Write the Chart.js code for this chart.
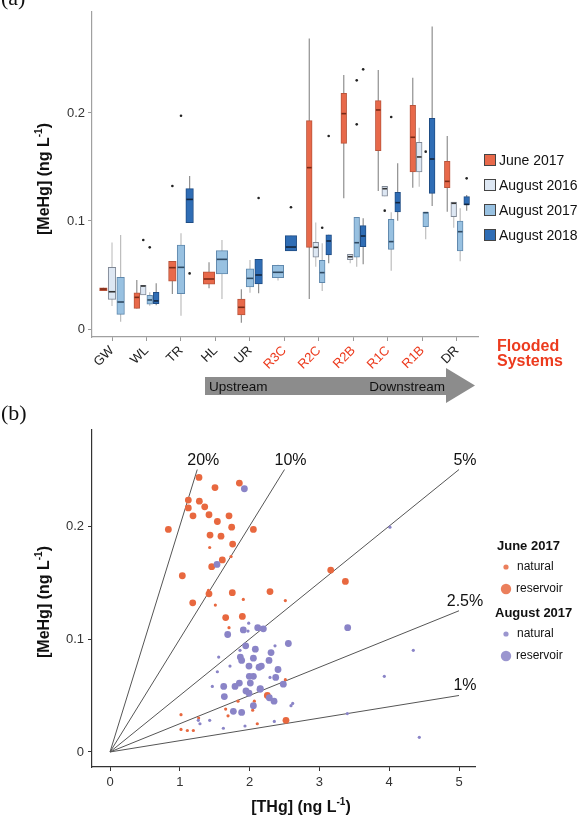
<!DOCTYPE html>
<html>
<head>
<meta charset="utf-8">
<script src="https://cdn.jsdelivr.net/npm/chart.js@4.4.0/dist/chart.umd.min.js"></script>
<style>
  body { margin: 0; background: #fff; width: 584px; height: 822px; position: relative; overflow: hidden; }
  canvas { position: absolute; left: 0; }
  #chartA { top: 0; }
  #chartB { top: 410px; }
  .panel { position: absolute; left: 1px; font-family: 'Liberation Serif', 'Times New Roman', serif; font-size: 22px; line-height: 1; color: #111; }
</style>
</head>
<body>
<canvas id="chartA" width="584" height="410"></canvas>
<canvas id="chartB" width="584" height="412"></canvas>
<div class="panel" style="top:-13px">(a)</div>
<div class="panel" style="top:402px">(b)</div>
<script>
// ---------- panel (a) data ----------
const categories = ['GW', 'WL', 'TR', 'HL', 'UR', 'R3C', 'R2C', 'R2B', 'R1C', 'R1B', 'DR'];
const floodedSites = ['R3C', 'R2C', 'R2B', 'R1C', 'R1B'];
const seriesNames = ['June 2017', 'August 2016', 'August 2017', 'August 2018'];
const yTicksA = [0, 0.1, 0.2];

// [lower whisker, Q1, median, Q3, upper whisker] per site, null = not sampled
const june2017Boxes = [
  [0.0355, 0.0355, 0.037, 0.0382, 0.0382],
  [0.0191, 0.0191, 0.0293, 0.0336, 0.0454],
  [0.0324, 0.0444, 0.0568, 0.0627, 0.0627],
  [0.0377, 0.0414, 0.0463, 0.053, 0.0617],
  [0.0059, 0.013, 0.0201, 0.0278, 0.0367],
  null,
  [0.0278, 0.0756, 0.1494, 0.1929, 0.269],
  [0.121, 0.1719, 0.1994, 0.2182, 0.2352],
  [0.1278, 0.1651, 0.2028, 0.2114, 0.2398],
  [0.1308, 0.1454, 0.1775, 0.2071, 0.2327],
  [0.1086, 0.1308, 0.1367, 0.1553, 0.1787]
];
const aug2016Boxes = [
  [0.0213, 0.0275, 0.0345, 0.0571, 0.080],
  [0.0315, 0.0315, 0.0398, 0.0405, 0.0405],
  null, null, null, null,
  [0.0577, 0.0664, 0.0756, 0.0803, 0.0985],
  [0.0608, 0.0642, 0.0669, 0.0691, 0.0691],
  [0.1229, 0.1229, 0.1299, 0.1321, 0.1321],
  [0.1318, 0.1454, 0.1593, 0.1728, 0.1864],
  [0.0938, 0.104, 0.1164, 0.1176, 0.1176]
];
const aug2017Boxes = [
  [0.0068, 0.0136, 0.025, 0.0479, 0.087],
  [0.0216, 0.0231, 0.0269, 0.0312, 0.034],
  [0.0123, 0.0327, 0.0571, 0.0778, 0.0886],
  [0.0278, 0.0509, 0.0645, 0.0725, 0.0824],
  [0.0336, 0.0389, 0.0469, 0.0556, 0.0639],
  [0.045, 0.0475, 0.0525, 0.059, 0.0595],
  [0.0352, 0.0429, 0.0522, 0.0636, 0.0793],
  [0.0577, 0.0664, 0.0799, 0.1034, 0.1034],
  [0.054, 0.0738, 0.0809, 0.1016, 0.108],
  [0.083, 0.0947, 0.1077, 0.1083, 0.1083],
  [0.0627, 0.0722, 0.0901, 0.1, 0.1117]
];
const aug2018Boxes = [
  null,
  [0.022, 0.0234, 0.026, 0.034, 0.0423],
  [0.0984, 0.0984, 0.12, 0.13, 0.1417],
  null,
  [0.033, 0.0417, 0.05, 0.0645, 0.0645],
  [0.0722, 0.0722, 0.0759, 0.0864, 0.0864],
  [0.0608, 0.0685, 0.0815, 0.0873, 0.0873],
  [0.0599, 0.0762, 0.0861, 0.0957, 0.1025],
  [0.1003, 0.1083, 0.117, 0.1265, 0.1534],
  [0.1139, 0.1256, 0.1574, 0.1951, 0.28],
  [0.1096, 0.1148, 0.1154, 0.1225, 0.124]
];
// outliers: [site index, value]
const june2017Outliers = [[2, 0.1324]];
const aug2016Outliers = [[1, 0.0824], [8, 0.1096]];
const aug2017Outliers = [[1, 0.0756], [2, 0.1975], [6, 0.0938], [7, 0.2302], [7, 0.1895], [8, 0.1963], [9, 0.1642]];
const aug2018Outliers = [[2, 0.0515], [4, 0.1213], [5, 0.1127], [6, 0.1787], [7, 0.2404], [10, 0.1395]];

// ---------- panel (b) data ----------
const xTicksB = [0, 1, 2, 3, 4, 5];
const yTicksB = [0, 0.1, 0.2];
const ratioLines = [0.2, 0.1, 0.05, 0.025, 0.01];
const ratioLabels = ['20%', '10%', '5%', '2.5%', '1%'];
// [THg, MeHg]
const juneReservoir = [
  [1.275, 0.243], [1.504, 0.234], [1.853, 0.238], [1.122, 0.223], [1.28, 0.222], [1.357, 0.217],
  [1.122, 0.216], [1.189, 0.209], [1.418, 0.21], [1.705, 0.209], [1.538, 0.204], [1.743, 0.199],
  [0.836, 0.197], [2.054, 0.197], [1.433, 0.192], [1.59, 0.191], [1.757, 0.184], [1.609, 0.17],
  [1.457, 0.164], [1.036, 0.156], [1.418, 0.14], [1.752, 0.141], [2.292, 0.142], [1.185, 0.132],
  [1.657, 0.119], [1.896, 0.12], [3.162, 0.161], [3.372, 0.151], [2.254, 0.05], [2.521, 0.028]
];
const juneNatural = [
  [1.428, 0.181], [1.734, 0.173], [1.509, 0.13], [1.91, 0.135], [2.512, 0.134], [1.705, 0.11],
  [1.41, 0.143], [2.512, 0.064], [1.657, 0.038], [1.834, 0.045], [2.068, 0.045], [2.044, 0.037],
  [1.691, 0.032], [1.017, 0.033], [1.27, 0.03], [1.017, 0.02], [1.108, 0.019], [1.194, 0.019],
  [2.11, 0.025]
];
const augReservoir = [
  [1.925, 0.233], [1.533, 0.166], [3.405, 0.11], [1.686, 0.104], [1.91, 0.108], [2.116, 0.11],
  [2.197, 0.109], [1.944, 0.094], [2.082, 0.091], [2.307, 0.088], [2.555, 0.096], [1.867, 0.084],
  [1.886, 0.081], [2.054, 0.083], [2.278, 0.081], [1.991, 0.076], [2.135, 0.075], [2.168, 0.076],
  [2.407, 0.073], [1.996, 0.067], [2.054, 0.067], [2.374, 0.066], [1.853, 0.061], [2.01, 0.061],
  [2.483, 0.06], [1.629, 0.058], [1.791, 0.058], [2.154, 0.056], [1.638, 0.049], [1.948, 0.054],
  [1.991, 0.052], [2.282, 0.048], [2.35, 0.045], [1.767, 0.036], [1.886, 0.035], [2.149, 0.0555],
  [2.054, 0.041]
];
const augNatural = [
  [1.987, 0.114], [1.977, 0.107], [1.862, 0.09], [2.364, 0.094], [1.557, 0.084], [1.719, 0.076],
  [1.538, 0.071], [2.292, 0.066], [1.466, 0.058], [2.617, 0.043], [2.593, 0.041], [1.265, 0.028],
  [1.428, 0.028], [1.289, 0.025], [1.934, 0.023], [2.354, 0.027], [1.624, 0.021], [3.4, 0.034],
  [4.431, 0.013], [4.01, 0.199], [4.345, 0.09], [3.93, 0.067]
];

// ---------- styles ----------
const FONT = '"Liberation Sans", Arial, sans-serif';
const RED = '#ec3b1e';
const boxFill = ['#e8694a', '#dde7f3', '#98c1e1', '#2f6db5'];
const boxEdge = ['#b9543b', '#7f8794', '#5f88ad', '#1f4d85'];
const medianColor = ['#7a2a16', '#333', '#2f4a63', '#13253d'];
const whiskerColor = ['#8f8f8f', '#c4c4c4', '#bdbdbd', '#8f8f8f'];
const ORANGE = '#e8683f';
const PURPLE = '#8a84c7';

Chart.defaults.font.family = FONT;
Chart.defaults.animation = false;

// ---------- panel (a) ----------
const boxSeries = [june2017Boxes, aug2016Boxes, aug2017Boxes, aug2018Boxes];
const outlierSeries = [june2017Outliers, aug2016Outliers, aug2017Outliers, aug2018Outliers];
const A_MIN = -0.58, A_MAX = 10.61, A_LEFT = 92, A_RIGHT = 478;
const unitPx = (A_RIGHT - A_LEFT) / (A_MAX - A_MIN);

// dodge boxes like ggplot: only the sampled campaigns share the site's width
function slot(site, s) {
  const present = boxSeries.map((b, k) => (b[site] ? k : -1)).filter(k => k >= 0);
  const n = present.length;
  const k = present.indexOf(s);
  return { x: site - 0.375 + (k + 0.5) * 0.75 / n, w: 0.75 / n * 0.88 };
}

const datasetsA = [];
boxSeries.forEach((boxes, s) => {
  boxes.forEach((b, site) => {
    if (!b) return;
    const p = slot(site, s);
    datasetsA.push({
      type: 'bar',
      label: seriesNames[s],
      data: [{ x: p.x, y: [b[1], b[3]] }],
      stats: b,
      series: s,
      backgroundColor: boxFill[s],
      borderColor: boxEdge[s],
      borderWidth: 1,
      borderSkipped: false,
      barThickness: p.w * unitPx,
      grouped: false,
      order: 1
    });
  });
});
datasetsA.push({
  type: 'scatter',
  label: 'outliers',
  data: outlierSeries.flatMap((list, s) => list.map(o => ({ x: slot(o[0], s).x, y: o[1] }))),
  pointRadius: 1.3,
  pointBackgroundColor: '#222',
  pointBorderWidth: 0,
  order: 0
});

function drawSupText(ctx, x, y, rot, main, sup, tail, size) {
  ctx.save();
  ctx.translate(x, y);
  ctx.rotate(rot);
  ctx.fillStyle = '#111';
  ctx.textBaseline = 'middle';
  ctx.textAlign = 'left';
  const big = 'bold ' + size + 'px ' + FONT;
  const small = 'bold ' + Math.round(size * 0.6) + 'px ' + FONT;
  ctx.font = big;
  const w1 = ctx.measureText(main).width;
  const w3 = ctx.measureText(tail).width;
  ctx.font = small;
  const w2 = ctx.measureText(sup).width;
  let start = -(w1 + w2 + w3) / 2;
  ctx.font = big;
  ctx.fillText(main, start, 0);
  ctx.font = small;
  ctx.fillText(sup, start + w1, -size * 0.35);
  ctx.font = big;
  ctx.fillText(tail, start + w1 + w2, 0);
  ctx.restore();
}

const boxParts = {
  id: 'boxParts',
  beforeDatasetsDraw(chart) {
    const ctx = chart.ctx, y = chart.scales.y;
    chart.data.datasets.forEach((ds, i) => {
      if (!ds.stats) return;
      const el = chart.getDatasetMeta(i).data[0];
      ctx.save();
      ctx.strokeStyle = whiskerColor[ds.series];
      ctx.lineWidth = 1.2;
      ctx.beginPath();
      ctx.moveTo(el.x, y.getPixelForValue(ds.stats[0]));
      ctx.lineTo(el.x, y.getPixelForValue(ds.stats[4]));
      ctx.stroke();
      ctx.restore();
    });
  },
  afterDatasetsDraw(chart) {
    const ctx = chart.ctx, y = chart.scales.y;
    chart.data.datasets.forEach((ds, i) => {
      if (!ds.stats) return;
      const el = chart.getDatasetMeta(i).data[0];
      const py = y.getPixelForValue(ds.stats[2]);
      ctx.save();
      ctx.strokeStyle = medianColor[ds.series];
      ctx.lineWidth = 1.6;
      ctx.beginPath();
      ctx.moveTo(el.x - el.width / 2 + 0.5, py);
      ctx.lineTo(el.x + el.width / 2 - 0.5, py);
      ctx.stroke();
      ctx.restore();
    });
  },
  afterDraw(chart) {
    const ctx = chart.ctx;
    ctx.save();
    // legend
    seriesNames.forEach((name, s) => {
      const cy = 160 + s * 25;
      ctx.fillStyle = boxFill[s];
      ctx.fillRect(484, cy - 6, 12, 12);
      ctx.strokeStyle = '#444';
      ctx.lineWidth = 1;
      ctx.strokeRect(484.5, cy - 5.5, 11, 11);
      ctx.fillStyle = '#111';
      ctx.font = '14px ' + FONT;
      ctx.textBaseline = 'middle';
      ctx.textAlign = 'left';
      ctx.fillText(name, 499, cy + 1);
    });
    // flooded systems note
    ctx.fillStyle = RED;
    ctx.font = 'bold 16px ' + FONT;
    ctx.fillText('Flooded', 497, 347);
    ctx.fillText('Systems', 497, 362);
    // upstream -> downstream arrow
    ctx.fillStyle = '#8c8c8c';
    ctx.beginPath();
    ctx.moveTo(205, 377);
    ctx.lineTo(446, 377);
    ctx.lineTo(446, 368);
    ctx.lineTo(475, 385.5);
    ctx.lineTo(446, 403);
    ctx.lineTo(446, 395);
    ctx.lineTo(205, 395);
    ctx.closePath();
    ctx.fill();
    ctx.fillStyle = '#111';
    ctx.font = '13.5px ' + FONT;
    ctx.textAlign = 'left';
    ctx.fillText('Upstream', 209, 387);
    ctx.textAlign = 'right';
    ctx.fillText('Downstream', 445, 387);
    ctx.restore();
    drawSupText(ctx, 45, 179, -Math.PI / 2, '[MeHg] (ng L', '-1', ')', 16);
  }
};

new Chart(document.getElementById('chartA').getContext('2d'), {
  type: 'bar',
  data: { datasets: datasetsA },
  options: {
    responsive: false,
    layout: { padding: { left: 0, top: 12, right: 584 - A_RIGHT, bottom: 0 } },
    plugins: { legend: { display: false }, tooltip: { enabled: false } },
    scales: {
      x: {
        type: 'linear',
        offset: false,
        min: A_MIN,
        max: A_MAX,
        afterBuildTicks: s => { s.ticks = categories.map((c, i) => ({ value: i })); },
        afterFit: s => { s.height = 73; s.paddingLeft = 0; s.paddingRight = 0; },
        grid: { offset: false, drawOnChartArea: false, color: '#999', tickLength: 4 },
        border: { color: '#a0a0a0', width: 1.2 },
        ticks: {
          autoSkip: false,
          minRotation: 45,
          maxRotation: 45,
          padding: 2,
          font: { size: 13 },
          color: c => (floodedSites.includes(categories[c.tick.value]) ? RED : '#222'),
          callback: v => categories[v]
        }
      },
      y: {
        min: -0.0074,
        max: 0.2935,
        afterBuildTicks: s => { s.ticks = yTicksA.map(v => ({ value: v })); },
        afterFit: s => { s.width = A_LEFT; },
        grid: { drawOnChartArea: false, color: '#999', tickLength: 4 },
        border: { color: '#a0a0a0', width: 1.2 },
        ticks: { font: { size: 13 }, color: '#333', padding: 3, callback: v => String(v) }
      }
    }
  },
  plugins: [boxParts]
});

// ---------- panel (b) ----------
const B_LEFT = 92, B_RIGHT = 475;
const lineDatasets = ratioLines.map(r => {
  const xe = Math.min(5, 0.25 / r);
  return {
    type: 'scatter',
    showLine: true,
    data: [{ x: 0, y: 0 }, { x: xe, y: xe * r }],
    borderColor: '#555',
    borderWidth: 1,
    pointRadius: 0,
    order: 5
  };
});
const toPts = arr => arr.map(p => ({ x: p[0], y: p[1] }));
const pointDatasets = [
  { data: toPts(juneNatural), pointRadius: 1.6, pointBackgroundColor: ORANGE, order: 3 },
  { data: toPts(juneReservoir), pointRadius: 3.4, pointBackgroundColor: ORANGE, order: 3 },
  { data: toPts(augNatural), pointRadius: 1.6, pointBackgroundColor: PURPLE, order: 2 },
  { data: toPts(augReservoir), pointRadius: 3.4, pointBackgroundColor: PURPLE, order: 2 }
].map(d => Object.assign({ type: 'scatter', pointBorderWidth: 0 }, d));

const ratioText = {
  id: 'ratioText',
  afterDraw(chart) {
    const ctx = chart.ctx, x = chart.scales.x, y = chart.scales.y;
    ctx.save();
    ctx.fillStyle = '#111';
    ctx.font = '16px ' + FONT;
    ctx.textAlign = 'center';
    ctx.textBaseline = 'alphabetic';
    ratioLines.forEach((r, i) => {
      const xe = Math.min(5, 0.25 / r);
      ctx.fillText(ratioLabels[i], x.getPixelForValue(xe) + 6, y.getPixelForValue(xe * r) - 5);
    });
    // legend
    const groups = [['June 2017', ORANGE, 136], ['August 2017', PURPLE, 203]];
    groups.forEach(g => {
      ctx.fillStyle = '#111';
      ctx.textAlign = 'left';
      ctx.textBaseline = 'middle';
      ctx.font = 'bold 13px ' + FONT;
      ctx.fillText(g[0], g[0] === 'June 2017' ? 497 : 495, g[2]);
      ctx.globalAlpha = 0.85;
      ctx.fillStyle = g[1];
      ctx.beginPath(); ctx.arc(506, g[2] + 21, 2.6, 0, Math.PI * 2); ctx.fill();
      ctx.beginPath(); ctx.arc(506, g[2] + 43, 5.2, 0, Math.PI * 2); ctx.fill();
      ctx.globalAlpha = 1;
      ctx.fillStyle = '#111';
      ctx.font = '12px ' + FONT;
      ctx.fillText('natural', 517, g[2] + 21);
      ctx.fillText('reservoir', 516, g[2] + 43);
    });
    ctx.restore();
    drawSupText(ctx, 45, 192, -Math.PI / 2, '[MeHg] (ng L', '-1', ')', 16);
    drawSupText(ctx, 301, 398, 0, '[THg] (ng L', '-1', ')', 16);
  }
};

new Chart(document.getElementById('chartB').getContext('2d'), {
  type: 'scatter',
  data: { datasets: lineDatasets.concat(pointDatasets) },
  options: {
    responsive: false,
    layout: { padding: { left: 0, top: 20, right: 584 - B_RIGHT, bottom: 0 } },
    plugins: { legend: { display: false }, tooltip: { enabled: false } },
    scales: {
      x: {
        type: 'linear',
        min: -0.258,
        max: 5.229,
        afterBuildTicks: s => { s.ticks = xTicksB.map(v => ({ value: v })); },
        afterFit: s => { s.height = 55; },
        grid: { drawOnChartArea: false, color: '#333', tickLength: 4 },
        border: { color: '#333', width: 1.2 },
        ticks: { font: { size: 13 }, color: '#333', padding: 4, callback: v => String(v) }
      },
      y: {
        min: -0.0133,
        max: 0.285,
        afterBuildTicks: s => { s.ticks = yTicksB.map(v => ({ value: v })); },
        afterFit: s => { s.width = B_LEFT; },
        grid: { drawOnChartArea: false, color: '#333', tickLength: 4 },
        border: { color: '#333', width: 1.2 },
        ticks: { font: { size: 13 }, color: '#333', padding: 4, callback: v => String(v) }
      }
    }
  },
  plugins: [ratioText]
});
</script>
</body>
</html>
